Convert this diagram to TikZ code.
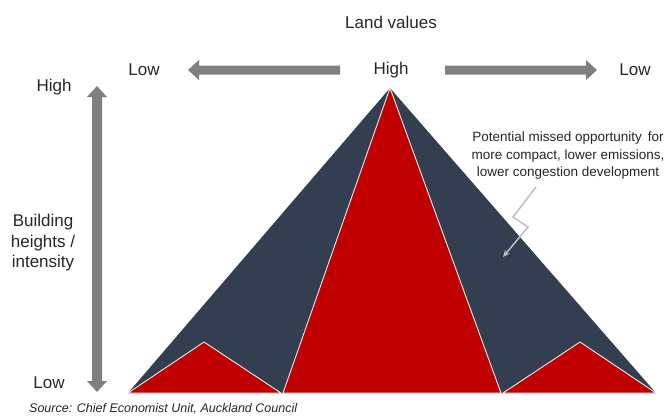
\documentclass[tikz,border=0pt]{standalone}
\usepackage{fontspec}
\setmainfont{Liberation Sans}
\usetikzlibrary{arrows.meta}
\definecolor{navy}{HTML}{333F50}
\definecolor{dred}{HTML}{C00000}
\definecolor{agray}{HTML}{7F7F7F}
\definecolor{lgray}{HTML}{BFBFBF}
\definecolor{tgray}{HTML}{262626}
\tikzset{
  lbl/.style={text=tgray, font=\fontsize{17}{20}\selectfont, inner sep=0pt},
  note/.style={text=tgray, font=\fontsize{13.5}{17.5}\selectfont, align=center, inner sep=0pt},
  blockarrow/.style={fill=agray, draw=none},
  redpart/.style={fill=dred, draw=white!85!gray, line width=0.9pt, line join=round},
}
\begin{document}
\begin{tikzpicture}[x=1pt,y=-1pt]
\useasboundingbox (0,0) rectangle (665,416);
% coordinates
\coordinate (apex) at (390,88);
\coordinate (bl) at (128,393);
\coordinate (br) at (656,393);
\coordinate (lp) at (204,342);
\coordinate (lr) at (281,393);
\coordinate (cl) at (283,393);
\coordinate (cr) at (501,393);
\coordinate (rl) at (503,393);
\coordinate (rp) at (580,342);
% big navy triangle
\fill[navy] (apex) -- (br) -- (bl) -- cycle;
% red parts
\draw[redpart] (apex) -- (cr) -- (cl) -- cycle;
\draw[redpart] (bl) -- (lp) -- (lr) -- cycle;
\draw[redpart] (rl) -- (rp) -- (br) -- cycle;
% labels
\node[lbl] (title) at (391,22) {Land values};
\node[lbl] (hlow1) at (144,70) {Low};
\node[lbl] (hhigh) at (391,70) {High};
\node[lbl] (hlow2) at (635,70) {Low};
\node[lbl] (vhigh) at (54,87) {High};
\node[lbl] (vlow) at (49,383) {Low};
\node[lbl, align=center, font=\fontsize{17}{20.5}\selectfont] (vlab) at (43,243) {Building\\heights /\\intensity};
% horizontal block arrows
\fill[blockarrow] (340,65.5) -- (199,65.5) -- (199,60) -- (188,70) -- (199,80) -- (199,74.5) -- (340,74.5) -- cycle;
\fill[blockarrow] (445,65.5) -- (586,65.5) -- (586,60) -- (597,70) -- (586,80) -- (586,74.5) -- (445,74.5) -- cycle;
% vertical double block arrow
\fill[blockarrow] (92,97) -- (87,97) -- (97,86) -- (107,97) -- (102,97) -- (102,381) -- (107,381) -- (97,392) -- (87,381) -- (92,381) -- cycle;
% annotation
\node[note] (ann) at (568,156) {Potential missed opportunity\, for\\more compact, lower emissions,\\lower congestion development};
\coordinate (z1) at (536,187);
\coordinate (z2) at (513,217);
\coordinate (z3) at (528,227);
\coordinate (tip) at (503,257);
\draw[lgray, line width=1.5pt, -{Stealth[length=7pt,width=6pt]}] (z1) -- (z2) -- (z3) -- (tip);
% source
\node[text=tgray, font=\fontsize{12.5}{14}\selectfont\itshape, anchor=west, inner sep=0pt] (src) at (29,409) {Source: Chief Economist Unit, Auckland Council};
\end{tikzpicture}
\end{document}
